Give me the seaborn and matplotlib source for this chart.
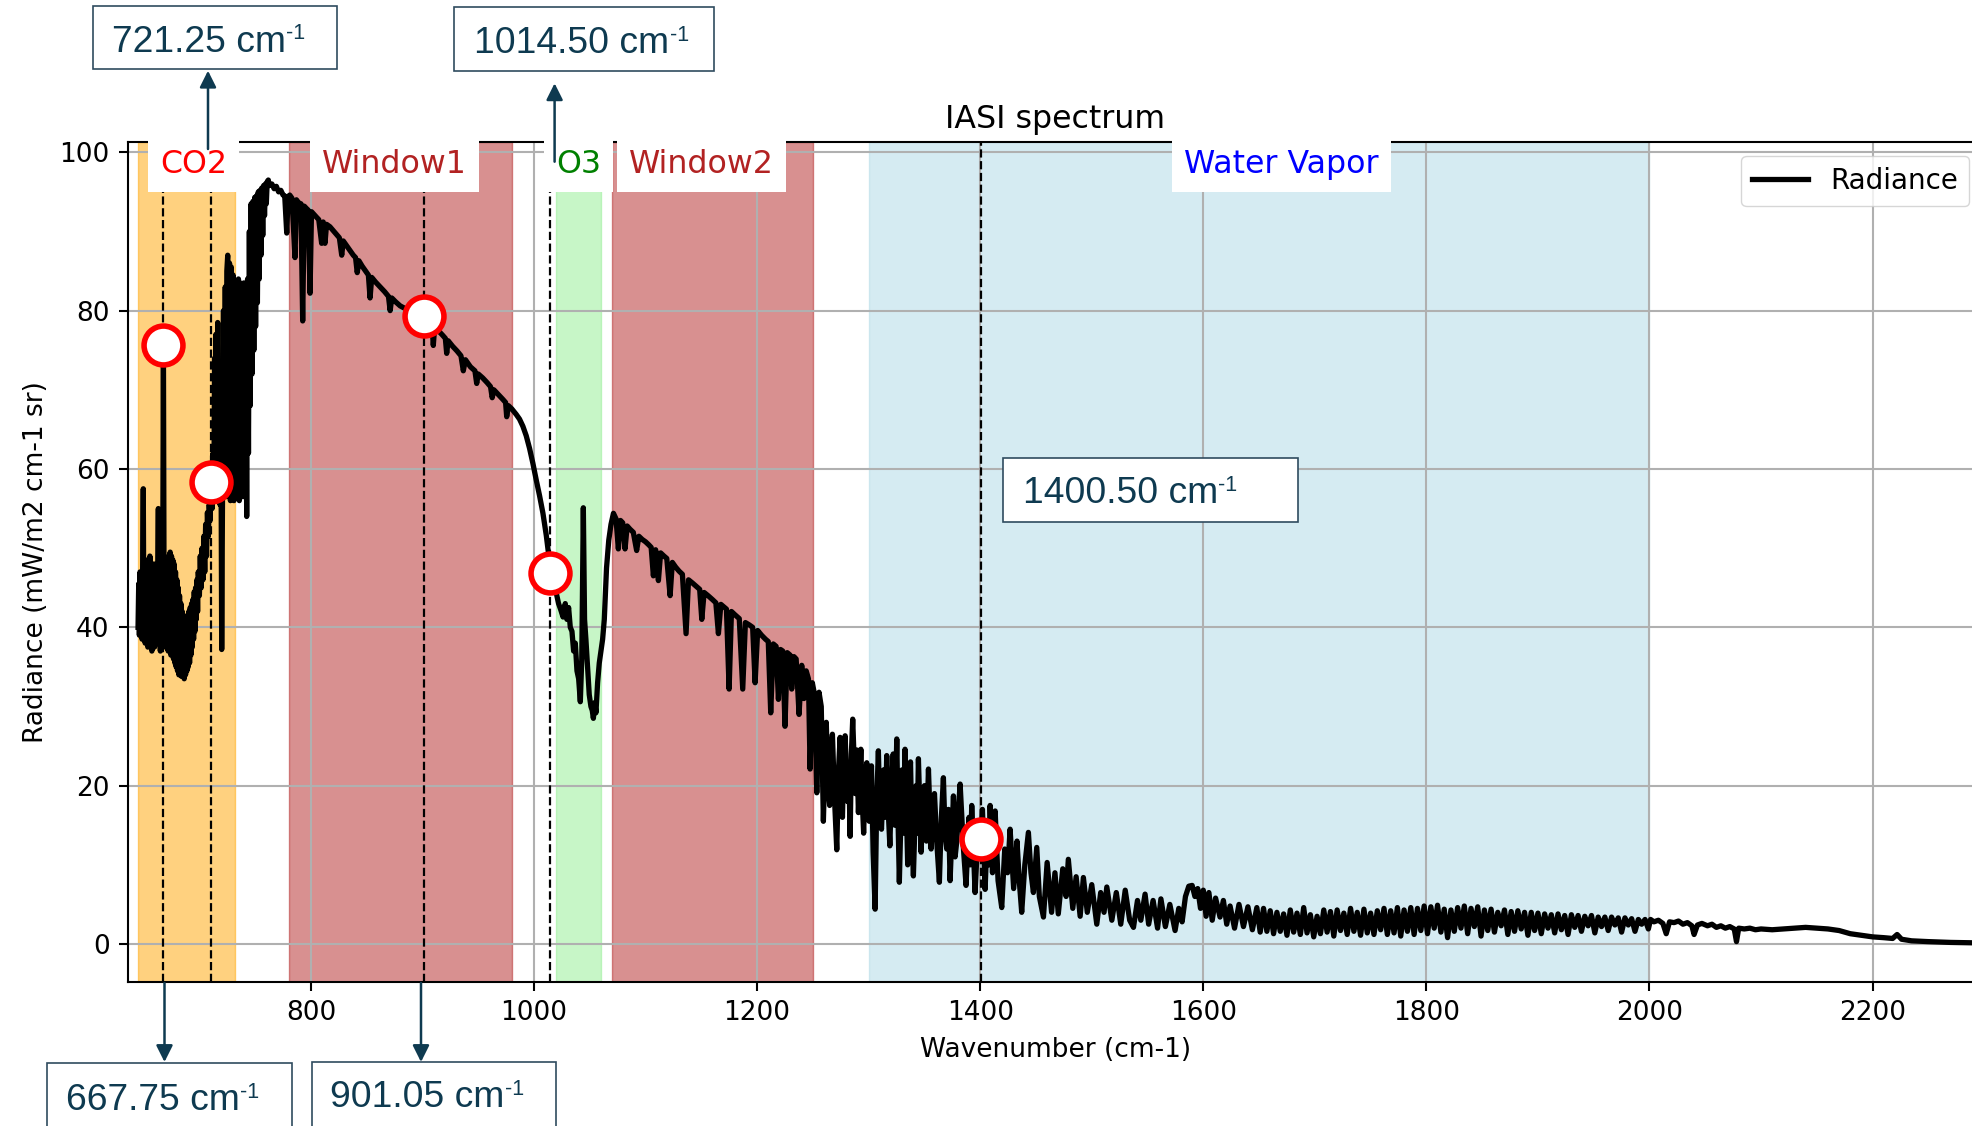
import matplotlib
matplotlib.use('Agg')  # Non-interactive backend
import matplotlib.pyplot as plt
import seaborn as sns
import numpy as np
import pandas as pd
from matplotlib.patches import Rectangle, FancyArrowPatch

W, H = 1972, 1126

# Spectrum, band by band: (wavenumber cm-1, radiance)
co2_band = [
    (645.0, 40.0), (645.6, 45.5), (646.2, 39.0), (646.8, 47.0), (647.4, 41.0), (648.0, 44.5),
    (648.6, 38.5), (649.2, 48.0), (649.7, 57.5), (650.2, 40.0), (650.8, 48.5), (651.4, 38.0),
    (652.0, 47.0), (652.6, 39.5), (653.2, 48.5), (653.8, 37.5), (654.4, 46.0), (655.0, 40.0),
    (655.6, 49.0), (656.2, 38.5), (656.8, 47.5), (657.4, 37.0), (658.0, 46.5), (658.6, 39.0),
    (659.2, 48.0), (659.8, 37.5), (660.4, 45.0), (661.0, 38.5), (661.6, 47.0), (662.2, 40.5),
    (663.2, 55.0), (663.8, 38.0), (664.4, 46.0), (665.0, 37.0), (665.6, 44.0), (666.4, 38.5),
    (667.1, 45.0), (667.75, 75.6), (668.4, 40.0), (669.0, 46.5), (669.6, 37.5), (670.2, 47.0),
    (670.8, 38.5), (671.4, 48.5), (672.0, 37.0), (672.6, 49.0), (673.2, 38.0), (673.8, 49.5),
    (674.4, 36.5), (675.0, 49.0), (675.6, 37.0), (676.2, 48.5), (676.8, 36.0), (677.4, 48.0),
    (678.0, 35.5), (678.6, 47.0), (679.2, 35.0), (679.8, 46.0), (680.4, 34.5), (681.0, 45.0),
    (681.6, 34.0), (682.2, 44.0), (682.8, 34.5), (683.4, 43.0), (684.0, 33.8), (684.6, 42.0),
    (685.2, 34.0), (685.8, 41.5), (686.4, 33.5), (687.0, 40.5), (687.6, 34.0), (688.2, 41.0),
    (688.8, 34.5), (689.4, 41.5), (690.0, 35.0), (690.6, 42.0), (691.2, 35.5), (691.8, 42.5),
    (692.4, 36.5), (693.0, 43.0), (693.6, 37.5), (694.2, 43.5), (694.8, 38.5), (695.4, 44.5),
    (696.0, 39.5), (696.6, 45.0), (697.2, 41.0), (697.8, 46.0), (698.4, 42.0), (699.0, 47.0),
]
co2_rise = [
    (700.0, 44.0), (700.8, 49.0), (701.6, 45.0), (702.4, 50.0), (703.2, 46.0), (704.0, 51.5),
    (704.8, 47.0), (705.6, 53.0), (706.4, 49.0), (707.2, 54.5), (708.0, 51.5), (708.8, 55.5),
    (709.6, 53.5), (710.5, 58.0), (711.4, 55.0), (712.2, 62.0), (713.0, 56.0), (713.6, 74.0),
    (714.2, 56.5), (714.8, 77.0), (715.4, 57.0), (716.4, 78.5), (717.2, 56.0), (717.8, 72.0),
    (718.5, 55.5), (719.2, 70.0), (720.0, 37.2), (720.8, 60.0), (721.6, 80.0), (722.4, 57.0),
    (723.2, 83.0), (724.0, 56.5), (724.6, 85.0), (725.4, 87.0), (726.2, 57.0), (727.0, 86.0),
    (727.8, 56.0), (728.6, 85.5), (729.4, 56.5), (730.2, 84.5), (731.0, 56.0), (731.8, 83.7),
    (732.6, 56.3), (733.4, 83.0), (734.2, 56.5), (735.0, 84.0), (735.8, 56.0), (736.6, 83.5),
    (737.4, 57.0), (738.2, 82.5), (739.0, 56.5), (739.8, 83.5), (740.6, 57.5), (741.4, 83.0),
    (742.4, 54.0), (743.2, 84.0), (744.0, 62.0), (744.8, 90.0), (745.6, 68.0), (746.4, 93.5),
    (747.2, 72.0), (748.0, 93.8), (748.8, 75.0), (749.6, 94.3), (750.4, 78.0), (751.2, 94.5),
    (752.0, 81.0), (752.8, 95.0), (753.6, 84.0), (754.4, 95.2), (755.2, 87.0), (756.0, 95.5),
    (756.8, 89.5), (757.6, 95.8), (758.4, 92.0), (759.2, 96.0), (760.0, 93.5), (760.8, 96.3),
    (761.8, 96.5),
]
window1_slope = [
    (762.5, 95.8), (765.0, 96.0), (767.0, 95.4), (769.0, 95.7), (771.0, 95.0), (773.0, 95.2),
    (775.0, 94.6), (776.5, 94.5), (778.3, 89.8), (779.5, 94.4), (781.0, 94.6), (783.0, 94.2),
    (785.7, 86.7), (787.0, 94.0), (789.0, 93.6), (791.0, 93.5), (792.6, 78.7), (794.0, 93.2),
    (796.0, 92.9), (797.5, 92.7), (799.2, 82.2), (800.5, 92.5), (803.0, 92.1), (805.0, 91.8),
    (807.0, 91.5), (809.6, 88.5), (811.0, 91.2), (812.6, 88.5), (814.0, 90.9), (817.0, 90.6),
    (820.0, 90.1), (823.0, 89.6), (825.5, 89.2), (827.6, 87.0), (829.0, 88.8), (832.0, 88.2),
    (835.0, 87.6), (838.0, 87.0), (840.0, 86.7), (841.5, 84.8), (843.0, 86.3), (846.0, 85.6),
    (849.0, 85.0), (851.5, 84.5), (853.0, 81.6), (854.5, 84.2), (858.0, 83.6), (862.0, 83.0),
    (866.0, 82.4), (869.5, 81.8), (871.0, 80.0), (872.5, 81.6), (876.0, 81.1), (880.0, 80.6),
    (884.0, 80.3), (888.0, 80.1), (893.0, 79.9), (897.0, 79.6), (901.05, 79.3), (905.0, 78.8),
    (908.5, 78.4), (909.7, 75.6), (911.0, 78.1), (914.0, 77.5), (918.0, 76.9), (920.5, 76.5),
    (921.7, 74.6), (923.0, 76.2), (927.0, 75.5), (931.0, 74.9), (934.5, 74.3), (936.6, 72.4),
    (938.5, 73.8), (943.0, 72.9), (947.0, 72.4), (948.6, 70.8), (950.0, 72.0), (954.0, 71.5),
    (958.0, 70.9), (961.0, 70.4), (962.5, 69.0), (964.0, 70.0), (968.0, 69.4), (972.0, 68.8),
    (974.5, 68.4), (975.5, 66.6), (977.0, 68.0), (980.0, 67.6), (984.0, 66.9), (987.0, 66.3),
    (990.0, 65.4), (993.0, 64.2), (996.0, 62.6), (999.0, 60.7), (1002.0, 58.6), (1005.0, 56.6),
    (1008.0, 54.4), (1011.0, 51.6), (1014.5, 47.6), (1017.0, 45.8), (1020.0, 44.3),
]
o3_band = [
    (1022.0, 43.0), (1024.0, 42.2), (1026.0, 41.3), (1028.0, 43.0), (1029.5, 41.0), (1031.0, 42.5),
    (1032.5, 40.0), (1034.0, 39.5), (1035.5, 37.0), (1037.0, 38.0), (1038.5, 34.5), (1040.0, 33.5),
    (1041.5, 30.6), (1042.8, 36.0), (1044.2, 55.1), (1045.3, 41.0), (1046.5, 38.5), (1048.0, 35.0),
    (1049.5, 31.5), (1051.0, 30.0), (1052.2, 29.5), (1053.2, 28.5), (1054.5, 30.5), (1055.5, 29.2),
    (1057.0, 33.0), (1058.5, 35.5), (1060.0, 37.0), (1061.5, 38.5), (1063.0, 41.0), (1065.0, 47.5),
    (1067.0, 51.0), (1069.0, 53.0),
]
window2_slope = [
    (1071.2, 54.4), (1073.5, 53.7), (1075.6, 49.9), (1077.5, 53.5), (1079.5, 53.2), (1081.6, 49.9),
    (1083.5, 52.8), (1086.0, 52.4), (1089.0, 52.0), (1092.0, 49.7), (1094.0, 51.5), (1097.0, 51.1),
    (1100.0, 50.8), (1103.0, 50.4), (1105.0, 50.1), (1107.0, 46.5), (1109.0, 49.8), (1111.5, 45.9),
    (1113.5, 49.4), (1116.5, 49.0), (1119.0, 48.7), (1122.0, 44.0), (1124.0, 48.2), (1127.0, 47.6),
    (1130.0, 47.1), (1133.0, 46.7), (1136.3, 39.2), (1138.5, 46.0), (1142.0, 45.6), (1146.0, 45.1),
    (1148.5, 44.8), (1150.4, 41.0), (1152.5, 44.4), (1156.0, 44.0), (1160.0, 43.5), (1163.0, 43.1),
    (1165.3, 39.2), (1167.5, 42.9), (1170.0, 42.6), (1172.5, 42.3), (1174.9, 32.2), (1177.0, 42.0),
    (1180.0, 41.6), (1184.0, 41.1), (1187.1, 32.2), (1189.5, 40.6), (1193.0, 40.3), (1196.0, 40.0),
    (1198.2, 33.0), (1200.5, 39.6), (1204.0, 39.0), (1207.5, 38.5), (1210.0, 38.2), (1212.2, 29.2),
    (1214.5, 37.9), (1217.0, 37.6), (1219.1, 30.9), (1221.0, 37.2), (1223.0, 37.0), (1225.0, 27.5),
    (1227.0, 36.8), (1229.5, 36.5), (1231.0, 32.2), (1233.0, 36.3), (1235.0, 36.0), (1237.6, 29.0),
    (1240.0, 35.2), (1242.0, 31.0), (1244.0, 34.5), (1246.0, 33.5), (1247.5, 22.1), (1249.5, 33.0),
    (1251.5, 31.5), (1253.5, 19.1), (1255.5, 31.8), (1257.5, 30.0), (1259.4, 15.5),
]
h2o_strong = [
    (1261.0, 24.0), (1262.0, 28.0), (1263.5, 20.0), (1265.0, 17.5), (1266.5, 25.0), (1267.5, 26.5),
    (1269.5, 18.0), (1271.4, 11.9), (1273.0, 22.0), (1274.4, 26.1), (1275.5, 19.0), (1276.5, 16.0),
    (1277.8, 24.0), (1278.9, 26.3), (1281.0, 18.0), (1282.2, 22.0), (1283.4, 13.6), (1284.5, 24.0),
    (1285.7, 28.4), (1288.0, 19.0), (1289.5, 24.5), (1290.8, 16.6), (1293.0, 24.6), (1294.3, 18.0),
    (1295.5, 14.0), (1297.0, 21.0), (1298.3, 22.9), (1300.5, 15.5), (1302.5, 22.5), (1304.0, 11.6),
    (1305.8, 4.4), (1307.2, 18.0), (1308.7, 24.4), (1310.0, 17.0), (1311.5, 14.5), (1313.5, 22.0),
    (1315.0, 16.0), (1316.2, 23.8), (1317.5, 17.0), (1319.0, 12.4), (1320.5, 20.0), (1322.0, 24.0),
    (1323.5, 15.0), (1325.2, 25.9), (1326.3, 16.0), (1327.5, 7.8), (1330.0, 22.0), (1331.2, 14.0),
    (1332.6, 24.6), (1335.0, 10.0), (1336.2, 19.0), (1337.5, 23.0), (1338.8, 14.0), (1340.1, 8.6),
    (1342.5, 20.0), (1343.5, 14.0), (1344.6, 23.4), (1347.0, 11.6), (1348.5, 17.0), (1350.0, 20.0),
    (1351.8, 13.0), (1353.6, 22.1), (1356.0, 12.0), (1357.5, 17.0), (1359.0, 19.0), (1361.0, 13.0),
    (1363.4, 7.8), (1365.2, 16.0), (1367.0, 21.0), (1368.5, 14.0), (1370.0, 12.0), (1371.5, 17.0),
    (1373.0, 8.0), (1376.0, 18.7), (1377.5, 11.0), (1379.0, 13.0), (1380.5, 17.0), (1382.0, 20.2),
    (1385.0, 12.0), (1387.3, 7.4), (1390.0, 16.0), (1391.2, 10.0), (1392.4, 17.5), (1395.4, 6.5),
    (1398.0, 14.0), (1400.5, 13.3), (1402.0, 17.0), (1404.4, 6.9), (1406.5, 15.0), (1407.8, 10.0),
    (1408.9, 17.5), (1411.0, 9.0), (1413.4, 16.8), (1416.0, 8.0), (1419.3, 4.6), (1422.0, 12.0),
    (1424.5, 9.0), (1426.8, 14.5), (1430.0, 7.0), (1433.0, 13.0), (1435.0, 8.0), (1437.2, 4.0),
    (1440.0, 10.0), (1443.2, 14.1), (1445.5, 9.0), (1447.7, 6.5), (1450.7, 12.2), (1453.0, 6.0),
    (1456.7, 3.4), (1460.0, 10.3), (1464.0, 4.0), (1467.0, 9.0), (1470.0, 3.8), (1474.0, 9.5),
    (1477.0, 6.0), (1479.0, 10.7), (1483.0, 4.5), (1486.0, 8.5), (1489.6, 3.5), (1492.5, 8.4),
    (1496.0, 4.0), (1500.0, 7.5), (1504.5, 2.5), (1508.0, 6.5), (1511.0, 4.0), (1513.5, 7.2),
    (1518.0, 3.0), (1522.0, 6.5), (1526.0, 2.5), (1530.0, 6.8), (1534.0, 3.0), (1537.4, 2.1),
    (1541.0, 5.5), (1544.0, 3.0), (1547.8, 6.3), (1551.0, 2.5), (1555.0, 5.5), (1559.0, 2.0),
    (1562.0, 5.7), (1566.0, 2.2), (1570.0, 5.0), (1574.7, 1.7), (1578.0, 4.5), (1581.0, 2.8),
    (1584.0, 6.0), (1587.0, 7.3), (1590.0, 7.4), (1592.5, 6.0), (1595.0, 7.0), (1597.5, 4.5),
    (1600.0, 6.8), (1602.5, 3.5), (1605.0, 6.5), (1608.0, 3.0), (1611.0, 5.8), (1615.0, 3.4),
    (1618.0, 5.5), (1621.0, 2.5), (1624.0, 4.8), (1628.0, 2.0), (1632.0, 5.0), (1636.0, 2.2),
    (1640.0, 4.7), (1644.0, 1.8), (1648.0, 4.6),
]
h2o_weak = [
    (1651.0, 1.5), (1654.0, 4.5), (1657.0, 1.6), (1660.0, 4.2), (1663.0, 1.3), (1666.0, 4.0),
    (1669.0, 1.6), (1672.0, 3.8), (1675.0, 1.1), (1678.0, 4.3), (1681.0, 1.5), (1684.0, 3.9),
    (1687.0, 1.2), (1690.0, 4.6), (1693.0, 1.4), (1696.0, 3.7), (1699.0, 0.9), (1702.0, 3.5),
    (1705.0, 1.3), (1708.0, 4.3), (1711.0, 1.5), (1714.0, 4.1), (1717.0, 1.0), (1720.0, 4.3),
    (1723.0, 1.7), (1726.0, 3.9), (1729.0, 1.2), (1732.0, 4.5), (1735.0, 1.6), (1738.0, 4.0),
    (1741.0, 1.1), (1744.0, 4.4), (1747.0, 1.4), (1750.0, 3.9), (1753.0, 1.2), (1756.0, 4.2),
    (1759.0, 1.8), (1762.0, 4.5), (1765.0, 1.2), (1768.0, 4.2), (1771.0, 1.4), (1774.0, 4.6),
    (1777.0, 1.0), (1780.0, 4.3), (1783.0, 1.6), (1786.0, 4.6), (1789.0, 1.2), (1792.0, 4.5),
    (1795.0, 1.7), (1798.0, 4.8), (1801.0, 1.3), (1804.0, 4.7), (1807.0, 2.0), (1810.0, 4.9),
    (1813.0, 1.5), (1816.0, 4.4), (1819.0, 0.8), (1822.0, 4.3), (1825.0, 1.6), (1828.0, 4.6),
    (1831.0, 2.0), (1834.0, 4.8), (1837.0, 1.3), (1840.0, 4.5), (1843.0, 2.2), (1846.0, 4.7),
    (1849.0, 1.0), (1852.0, 4.3), (1855.0, 1.7), (1858.0, 4.4), (1861.0, 1.5), (1864.0, 4.0),
    (1867.0, 2.3), (1870.0, 4.3), (1873.0, 1.2), (1876.0, 4.1), (1879.0, 1.6), (1882.0, 4.2),
    (1885.0, 1.9), (1888.0, 4.0), (1891.0, 1.1), (1894.0, 4.0), (1897.0, 1.7), (1900.0, 3.9),
    (1903.0, 1.3), (1906.0, 3.8), (1909.0, 2.0), (1912.0, 3.7), (1915.0, 1.4), (1918.0, 3.8),
    (1921.0, 1.8), (1924.0, 3.6), (1927.0, 1.2), (1930.0, 3.7), (1933.0, 2.1), (1936.0, 3.6),
    (1939.0, 1.6), (1942.0, 3.5), (1945.0, 2.3), (1948.0, 3.6), (1951.0, 1.4), (1954.0, 3.4),
    (1957.0, 2.2), (1960.0, 3.4), (1963.0, 1.7), (1966.0, 3.4), (1969.0, 2.4), (1972.0, 3.3),
    (1975.0, 1.5), (1978.0, 3.3), (1981.0, 2.4), (1984.0, 3.2), (1987.0, 1.6), (1990.0, 3.1),
    (1993.0, 2.5), (1996.0, 3.1), (1999.0, 1.9),
]
tail = [
    (2001.0, 3.1), (2004.0, 2.8), (2008.0, 3.0), (2012.0, 2.6), (2015.0, 1.3), (2018.0, 2.8),
    (2022.0, 2.7), (2026.0, 2.9), (2030.0, 2.5), (2034.0, 2.7), (2038.0, 2.3), (2040.0, 1.2),
    (2043.0, 2.4), (2047.0, 2.6), (2052.0, 2.3), (2056.0, 2.5), (2060.0, 2.1), (2064.0, 2.3),
    (2068.0, 2.0), (2072.0, 2.2), (2076.0, 1.9), (2078.0, 0.3), (2080.0, 2.0), (2085.0, 1.9),
    (2090.0, 2.0), (2095.0, 1.8), (2100.0, 1.9), (2110.0, 1.8), (2120.0, 1.9), (2130.0, 2.0),
    (2140.0, 2.1), (2150.0, 2.0), (2160.0, 1.9), (2170.0, 1.7), (2180.0, 1.3), (2190.0, 1.1),
    (2200.0, 0.9), (2210.0, 0.8), (2218.0, 0.7), (2222.0, 1.2), (2226.0, 0.6), (2235.0, 0.4),
    (2250.0, 0.3), (2270.0, 0.2), (2290.0, 0.15), (2310.0, 0.1),
]

# Spectral bands
band_names = ['CO2', 'Window1', 'O3', 'Window2', 'Water Vapor']
band_start = [645, 780, 1020, 1070, 1300]
band_end = [732, 980, 1060, 1250, 2000]
band_colors = ['orange', 'firebrick', 'lightgreen', 'firebrick', 'lightblue']
band_text_colors = ['red', 'firebrick', 'green', 'firebrick', 'blue']
band_label_x = [695, 875, 1040, 1150, 1670]

# Selected channels
channel_wn = [667.75, 710.5, 901.05, 1014.5, 1400.5]
channel_rad = [75.6, 58.3, 79.3, 46.8, 13.3]

# Call-out boxes pasted round the plot (text, box px, text anchor px, arrow px)
callout_labels = ['667.75', '721.25', '901.05', '1014.50', '1400.50']
callout_boxes = [(46.6, 1063, 291.5, 1140), (93.4, 5.7, 337.2, 69.3), (311.9, 1062, 555.5, 1140),
                 (453.6, 6.7, 714.3, 70.7), (1002.7, 458.3, 1297.7, 521.7)]
callout_text_at = [(65.7, 1110), (112, 51.6), (330.4, 1107.3), (474.5, 53.3), (1022.7, 503.3)]
callout_arrows = [(164.5, 983, 1062), (208, 149, 70.7), (421, 983, 1062), (554.6, 161.7, 83.3), None]

navy = '#0E3A50'

plt.rcParams.update({
    'font.size': 19,
    'axes.linewidth': 1.5,
    'xtick.major.size': 6.6, 'ytick.major.size': 6.6,
    'xtick.major.width': 1.5, 'ytick.major.width': 1.5,
    'xtick.major.pad': 6.6, 'ytick.major.pad': 6.6,
    'grid.linewidth': 1.5,
    'axes.labelpad': 7.6,
})

fig = plt.figure(figsize=(W / 100, H / 100), dpi=100)
ax = fig.add_axes([128 / W, 1 - 982 / H, (1983 - 128) / W, (982 - 142) / H])

for s, e, c in zip(band_start, band_end, band_colors):
    ax.axvspan(s, e, color=c, alpha=0.5)

spectrum = pd.DataFrame(np.array(co2_band + co2_rise + window1_slope + o3_band
                                 + window2_slope + h2o_strong + h2o_weak + tail),
                        columns=['wavenumber', 'radiance'])
sns.lineplot(data=spectrum, x='wavenumber', y='radiance', ax=ax, color='black',
             lw=3.8, label='Radiance', estimator=None, sort=False)

for w in channel_wn:
    ax.axvline(w, color='black', ls='--', lw=1.6, zorder=2.2)
ax.plot(channel_wn, channel_rad, 'o', ms=28, mfc='white', mec='red', mew=4, zorder=5)

for name, x, c in zip(band_names, band_label_x, band_text_colors):
    ax.text(x, 97.35, name, color=c, fontsize=22.8, ha='center', va='baseline', zorder=4,
            bbox=dict(boxstyle='square,pad=0.38', fc='white', ec='none'))

ax.set_xlim(636, 2299)
ax.set_ylim(-4.8, 101.3)
ax.grid(True)
ax.set_title('IASI spectrum', fontsize=22.8, pad=10)
ax.set_xlabel('Wavenumber (cm-1)')
ax.set_ylabel('Radiance (mW/m2 cm-1 sr)')
ax.legend(loc='upper right', fontsize=20)


def fx(px):
    return px / W


def fy(py):
    return 1 - py / H


# Call-outs
main_texts = []
for label, (x0, y0, x1, y1), (tx, ty), arrow in zip(callout_labels, callout_boxes,
                                                     callout_text_at, callout_arrows):
    fig.add_artist(Rectangle((fx(x0), fy(y1)), (x1 - x0) / W, (y1 - y0) / H,
                             transform=fig.transFigure, fc='white', ec='#2F4B5F',
                             lw=1.2, zorder=5))
    t = fig.text(fx(tx), fy(ty), f'{label} cm', fontsize=26.8, family='Liberation Sans',
                 color=navy, ha='left', va='baseline', zorder=6)
    main_texts.append((t, ty))
    if arrow is not None:
        ax_x, ya, yb = arrow
        fig.add_artist(FancyArrowPatch((fx(ax_x), fy(ya)), (fx(ax_x), fy(yb)),
                                       transform=fig.transFigure, arrowstyle='-|>',
                                       mutation_scale=25, color=navy, lw=1.8,
                                       shrinkA=0, shrinkB=0, zorder=6))

fig.canvas.draw()
renderer = fig.canvas.get_renderer()
for t, ty in main_texts:
    bb = t.get_window_extent(renderer)
    fig.text(bb.x1 / W, fy(ty - 12.5), '-1', fontsize=15.5, family='Liberation Sans',
             color=navy, ha='left', va='baseline', zorder=6)

fig.savefig('out.png', dpi=100)
plt.close(fig)
